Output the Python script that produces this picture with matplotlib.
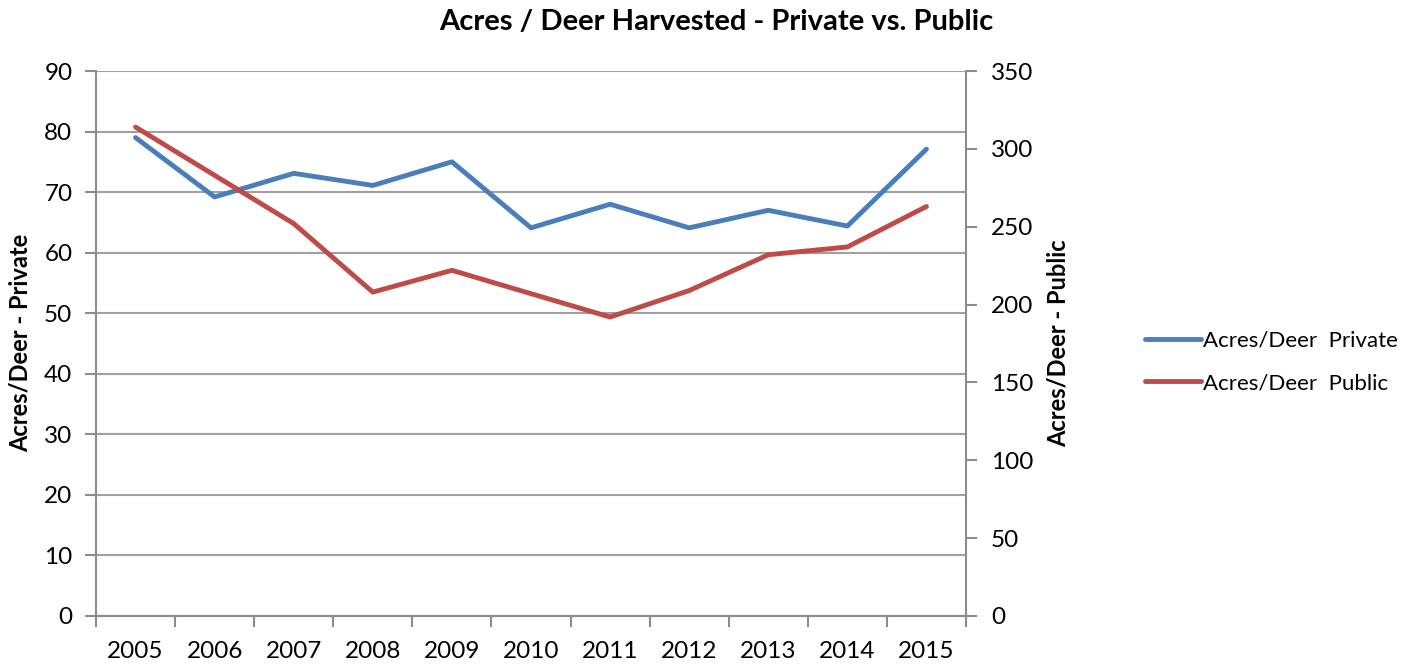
import matplotlib
matplotlib.use('Agg')
import matplotlib.pyplot as plt
import numpy as np

plt.rcParams['font.family'] = ['Lato', 'DejaVu Sans']

years = ['2005', '2006', '2007', '2008', '2009', '2010',
         '2011', '2012', '2013', '2014', '2015']
private = [79, 69.2, 73.1, 71.1, 75, 64.1, 68, 64.1, 67, 64.4, 77.1]
public = [314, 283, 252, 208, 222, 207, 192, 209, 232, 237, 263]

W, H = 1413, 665
fig = plt.figure(figsize=(W / 100, H / 100), dpi=100)
ax = fig.add_axes([96 / W, 1 - 616 / H, 870 / W, 545 / H])
ax2 = ax.twinx()

gray = '#8c8c8c'
x = np.arange(len(years))
l1, = ax.plot(x, private, color='#4a7ebb', lw=3.5, solid_capstyle='round',
              label='Acres/Deer  Private', zorder=3)
l2, = ax2.plot(x, public, color='#be4b48', lw=3.5, solid_capstyle='round',
               label='Acres/Deer  Public', zorder=3)

ax.set_xlim(-0.5, len(years) - 0.5)
ax.set_ylim(0, 90)
ax.set_yticks(np.arange(0, 91, 10))
ax2.set_ylim(0, 350)
ax2.set_yticks(np.arange(0, 351, 50))

# category ticks sit between the years, labels in the middle
ax.set_xticks(np.arange(-0.5, len(years), 1))
ax.set_xticklabels([])
ax.set_xticks(x, minor=True)
ax.set_xticklabels(years, minor=True)
ax.tick_params(axis='x', which='minor', length=0, pad=18, labelsize=17.5)
ax.tick_params(axis='x', which='major', length=8, width=1.5, color=gray)
ax.tick_params(axis='y', length=8, width=1.5, color=gray, pad=9, labelsize=17.5)
ax2.tick_params(axis='y', length=8, width=1.5, color=gray, pad=10, labelsize=17.5)

ax.yaxis.grid(True, color='#a0a0a0', lw=1.5)
ax.set_axisbelow(True)
for a in (ax, ax2):
    a.spines['top'].set_visible(False)
    for s in ('left', 'right', 'bottom'):
        a.spines[s].set_color(gray)
        a.spines[s].set_linewidth(1.5)
ax.spines['right'].set_visible(False)
ax2.spines['left'].set_visible(False)

fig.text(716 / W, 1 - 22 / H, 'Acres / Deer Harvested - Private vs. Public',
         ha='center', va='center', fontsize=21, fontweight='bold')
fig.text(20 / W, 1 - 343 / H, 'Acres/Deer - Private', rotation=90,
         ha='center', va='center', fontsize=17, fontweight='bold')
fig.text(1058 / W, 1 - 343 / H, 'Acres/Deer - Public', rotation=90,
         ha='center', va='center', fontsize=17, fontweight='bold')

fig.legend(handles=[l1, l2], loc='center left',
           bbox_to_anchor=(1125 / W, 1 - 362 / H), frameon=False,
           fontsize=16, handlelength=2.5, handletextpad=0.1,
           labelspacing=1.0)

fig.savefig('out.png', dpi=100)
